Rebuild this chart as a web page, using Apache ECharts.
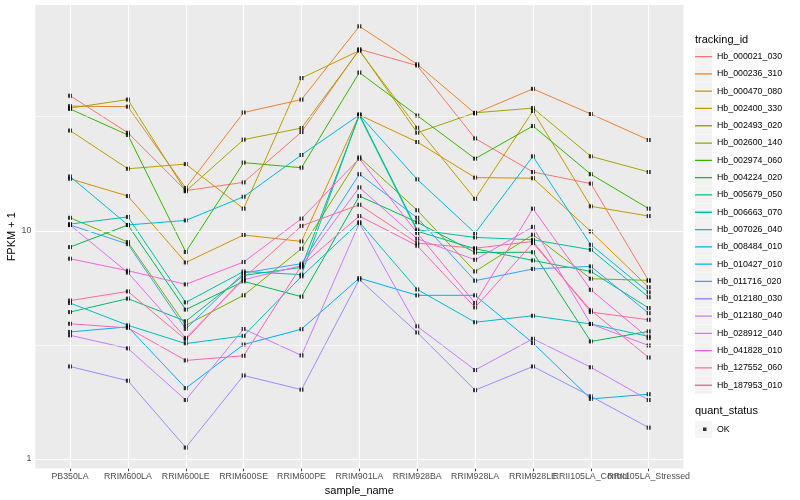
<!DOCTYPE html>
<html><head><meta charset="utf-8">
<script src="https://cdn.jsdelivr.net/npm/echarts@6/dist/echarts.min.js"></script>
<style>html,body{margin:0;padding:0;background:#fff}#c{width:800px;height:500px}</style>
</head><body><div id="c"></div>
<script>
const categories = ['PB350LA','RRIM600LA','RRIM600LE','RRIM600SE','RRIM600PE','RRIM901LA','RRIM928BA','RRIM928LA','RRIM928LE','RRII105LA_Control','RRII105LA_Stressed'];
const trackingIds = ['Hb_000021_030','Hb_000236_310','Hb_000470_080','Hb_002400_330','Hb_002493_020','Hb_002600_140','Hb_002974_060','Hb_004224_020','Hb_005679_050','Hb_006663_070','Hb_007026_040','Hb_008484_010','Hb_010427_010','Hb_011716_020','Hb_012180_030','Hb_012180_040','Hb_028912_040','Hb_041828_010','Hb_127552_060','Hb_187953_010'];
const palette = ['#F8766D','#EA8331','#D89000','#C09B00','#A3A500','#7CAE00','#39B600','#00BB4E','#00BF7D','#00C1A3','#00BFC4','#00BAE0','#00B0F6','#35A2FF','#9590FF','#C77CFF','#E76BF3','#FA62DB','#FF62BC','#FF6C91'];

// FPKM + 1 per sample (order of categories)
const Hb_000021_030 = [39.1, 26.9, 15.0, 16.3, 27.1, 62.5, 53.0, 25.4, 18.1, 16.1, 6.04];
const Hb_000236_310 = [35.2, 35.0, 15.4, 33.0, 37.6, 78.8, 53.7, 32.7, 41.9, 32.5, 25.0];
const Hb_000470_080 = [16.9, 14.2, 7.26, 9.58, 8.98, 32.2, 24.5, 17.1, 17.0, 9.93, 5.65];
const Hb_002400_330 = [27.5, 18.7, 19.6, 12.5, 46.7, 61.6, 28.3, 13.8, 33.5, 12.8, 11.6];
const Hb_002493_020 = [34.5, 37.6, 14.9, 25.1, 28.2, 62.0, 26.9, 32.9, 34.5, 21.2, 18.1];
const Hb_002600_140 = [11.4, 8.92, 3.85, 5.21, 8.34, 21.0, 12.3, 6.63, 9.61, 6.16, 6.06];
const Hb_002974_060 = [34.2, 26.3, 8.07, 19.9, 18.9, 49.4, 32.0, 20.7, 28.8, 17.7, 12.5];
const Hb_004224_020 = [8.48, 10.6, 4.51, 6.00, 5.14, 14.2, 10.9, 8.03, 8.05, 3.27, 3.62];
const Hb_005679_050 = [4.40, 5.04, 4.01, 6.37, 6.91, 32.0, 9.95, 8.34, 7.41, 6.63, 4.58];
const Hb_006663_070 = [10.7, 11.5, 4.85, 6.63, 6.42, 32.4, 10.1, 9.35, 9.13, 8.26, 5.11];
const Hb_007026_040 = [4.82, 3.85, 3.20, 3.46, 6.31, 10.9, 5.53, 3.97, 4.24, 3.90, 3.44];
const Hb_008484_010 = [17.3, 10.6, 11.1, 14.1, 21.5, 32.2, 16.8, 9.77, 21.2, 8.68, 5.37];
const Hb_010427_010 = [3.60, 3.79, 2.04, 3.17, 3.70, 6.20, 5.21, 5.21, 3.22, 1.83, 1.92];
const Hb_011716_020 = [10.6, 8.74, 3.71, 6.53, 7.17, 17.7, 11.4, 6.04, 6.80, 6.98, 4.35];
const Hb_012180_030 = [2.54, 2.20, 1.12, 2.32, 2.01, 6.12, 3.58, 2.00, 2.54, 1.88, 1.37];
const Hb_012180_040 = [3.48, 3.05, 1.81, 3.71, 2.84, 10.8, 3.81, 2.45, 3.36, 2.52, 1.81];
const Hb_028912_040 = [10.6, 6.55, 3.39, 6.10, 7.03, 15.5, 9.22, 7.46, 10.4, 3.90, 3.14];
const Hb_041828_010 = [7.54, 6.68, 5.82, 7.29, 11.3, 20.7, 9.77, 4.82, 12.5, 5.51, 3.38];
const Hb_127552_060 = [3.91, 3.75, 2.70, 2.83, 7.03, 11.6, 8.60, 4.61, 8.83, 4.48, 2.78];
const Hb_187953_010 = [4.94, 5.42, 3.33, 6.20, 10.5, 13.0, 8.83, 8.38, 8.98, 4.40, 4.07];

const seriesValues = [Hb_000021_030, Hb_000236_310, Hb_000470_080, Hb_002400_330, Hb_002493_020, Hb_002600_140, Hb_002974_060, Hb_004224_020, Hb_005679_050, Hb_006663_070, Hb_007026_040, Hb_008484_010, Hb_010427_010, Hb_011716_020, Hb_012180_030, Hb_012180_040, Hb_028912_040, Hb_041828_010, Hb_127552_060, Hb_187953_010];

const yMajorBreaks = [1, 10];
const yMinorBreaks = [3.1623, 31.623];
const yLimits = [0.9068, 97.7];
const xLimits = [-0.6, 10.6];
const quantStatus = 'OK';

const FONT = '"Liberation Sans", Arial, sans-serif';
const catIdx = categories.map((c, i) => i);
const evenIdx = catIdx.filter(i => i % 2 === 0);
const oddIdx = catIdx.filter(i => i % 2 === 1);
const LINE_ICON = 'path://M0,0L0.01,0L0.01,0.01Z M0,7.9L17,7.9L17,9.2L0,9.2Z M16.99,16.99L17,16.99L17,17Z';

const gridLines = [];
catIdx.forEach(i => gridLines.push({ xAxis: i, lineStyle: { color: '#ffffff', width: 1.1, type: 'solid' } }));
yMajorBreaks.forEach(v => gridLines.push({ yAxis: v, lineStyle: { color: '#ffffff', width: 1.1, type: 'solid' } }));
yMinorBreaks.forEach(v => gridLines.push({ yAxis: v, lineStyle: { color: '#ffffff', width: 0.55, type: 'solid' } }));

const series = [{
  type: 'line', name: '_grid', data: [], z: 1, silent: true, animation: false,
  markLine: { silent: true, symbol: ['none', 'none'], label: { show: false }, animation: false, data: gridLines }
}];
seriesValues.forEach((vals, k) => {
  series.push({
    type: 'line', name: trackingIds[k], z: 2, animation: false, silent: true,
    data: vals.map((v, i) => [i, v]),
    symbol: 'none',
    lineStyle: { width: 1, color: palette[k] },
    itemStyle: { color: palette[k] }
  });
});
const pts = [];
seriesValues.forEach(vals => vals.forEach((v, i) => pts.push([i, v])));
series.push({
  type: 'scatter', name: quantStatus, z: 3, animation: false, silent: true,
  data: pts, symbol: 'rect', symbolSize: 4, itemStyle: { color: '#000000' }
});

const legendBase = {
  orient: 'vertical', left: 695, top: 48, itemWidth: 17, itemHeight: 17, itemGap: 0.3,
  padding: 0, selectedMode: false
};

const labelStyle = { margin: 3.5, fontSize: 8.8, color: '#4D4D4D', fontFamily: FONT,
  hideOverlap: false, formatter: v => categories[Math.round(v)] };

const option = {
  backgroundColor: '#ffffff',
  animation: false,
  textStyle: { fontFamily: FONT },
  title: [
    { text: 'tracking_id', left: 695, top: 34, padding: 0, textStyle: { fontSize: 11, fontWeight: 'normal', color: '#000', fontFamily: FONT } },
    { text: 'quant_status', left: 695, top: 405, padding: 0, textStyle: { fontSize: 11, fontWeight: 'normal', color: '#000', fontFamily: FONT } }
  ],
  legend: [
    Object.assign({}, legendBase, { data: trackingIds, icon: 'rect', z: 3,
      itemStyle: { color: '#F2F2F2', borderWidth: 0 },
      textStyle: { color: 'rgba(0,0,0,0)', fontSize: 8.8, fontFamily: FONT } }),
    Object.assign({}, legendBase, { data: trackingIds, icon: LINE_ICON, z: 4,
      textStyle: { color: '#000', fontSize: 8.8, fontFamily: FONT } }),
    Object.assign({}, legendBase, { data: [quantStatus], top: 421, icon: 'rect', z: 3,
      itemStyle: { color: '#F2F2F2', borderWidth: 0 },
      textStyle: { color: '#000', fontSize: 8.8, fontFamily: FONT } }),
    Object.assign({}, legendBase, { data: [quantStatus], left: 703, top: 427.5, itemWidth: 3.5, itemHeight: 3.5, icon: 'rect', z: 4,
      itemStyle: { color: '#000' },
      textStyle: { color: 'rgba(0,0,0,0)', fontSize: 3 } })
  ],
  grid: { left: 35.3, right: 116.6, top: 5, bottom: 31.5, show: true, backgroundColor: '#EBEBEB', borderWidth: 0,
    containLabel: false, outerBoundsMode: 'none' },
  xAxis: [{
    type: 'value', min: xLimits[0], max: xLimits[1], position: 'bottom',
    name: 'sample_name', nameLocation: 'middle', nameGap: 13,
    nameTextStyle: { fontSize: 11, color: '#000', fontFamily: FONT },
    axisLine: { show: false },
    splitLine: { show: false },
    axisTick: { show: true, length: 2.7, customValues: catIdx, lineStyle: { color: '#333333', width: 1 } },
    axisLabel: Object.assign({ customValues: evenIdx }, labelStyle)
  }, {
    type: 'value', min: xLimits[0], max: xLimits[1], position: 'bottom', offset: 0,
    axisLine: { show: false },
    splitLine: { show: false },
    axisTick: { show: false },
    axisLabel: Object.assign({ customValues: oddIdx }, labelStyle)
  }],
  yAxis: {
    type: 'log', logBase: 10, min: yLimits[0], max: yLimits[1],
    name: 'FPKM + 1', nameLocation: 'middle', nameGap: 18, nameRotate: 90, nameMoveOverlap: false,
    nameTextStyle: { fontSize: 11, color: '#000', fontFamily: FONT },
    axisLine: { show: false },
    splitLine: { show: false },
    minorSplitLine: { show: false },
    axisTick: { show: true, length: 2.7, customValues: yMajorBreaks, lineStyle: { color: '#333333', width: 1 } },
    axisLabel: { customValues: yMajorBreaks, margin: 4, fontSize: 8.8, color: '#4D4D4D', fontFamily: FONT,
      formatter: v => String(Math.round(v)) }
  },
  series: series
};
const chart = echarts.init(document.getElementById('c'), null, { renderer: 'canvas' });
chart.setOption(option);
</script>
</body></html>
